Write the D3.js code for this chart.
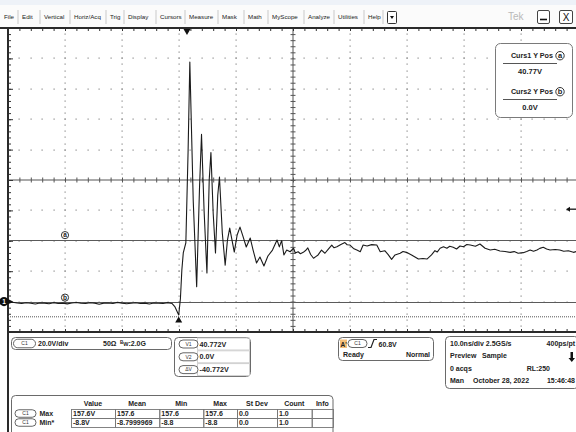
<!DOCTYPE html>
<html>
<head>
<meta charset="utf-8">
<script src="https://cdn.jsdelivr.net/npm/d3@7"></script>
<style>
  html, body { margin: 0; padding: 0; background: #fff; }
  svg { display: block; font-family: "Liberation Sans", Arial, sans-serif; }
</style>
</head>
<body>
<svg id="scope" width="576" height="432"></svg>
<script>
// ---- Acquired record: C1, time from left screen edge (ns) and amplitude (V)
const timeNs = [
  0, 0.8, 1.6, 2.4, 3.2, 4.0, 4.8, 5.6, 6.4, 7.2, 8.0, 8.8, 9.6, 10.4, 11.2, 12.0,
  12.8, 13.6, 14.4, 15.2, 16.0, 16.8, 17.6, 18.4, 19.2, 20.0, 20.8, 21.6, 22.4, 23.2,
  24.0, 24.8, 25.6, 26.4, 27.2, 28.0, 28.8,
  29.3, 29.95, 30.25, 30.5, 30.75, 31.2, 31.6, 31.9, 32.5, 33.1, 33.6, 33.95, 34.4,
  34.9, 35.3, 35.6, 36.0, 36.4, 36.8, 37.1, 37.6, 38.1, 38.5, 38.9, 39.3, 39.7, 40.2,
  40.7, 41.2, 41.8, 42.5, 43.0, 43.6, 44.2, 44.9, 45.6, 46.4, 47.2, 47.6, 48.0, 48.4,
  48.9, 49.5, 50.1, 50.4, 50.9, 51.3, 51.8, 52.2, 52.6, 53.1, 53.6, 54.0, 54.4, 55.0,
  55.6, 56.2, 56.8, 57.2, 57.7, 58.4, 59.1, 59.5, 60.0, 60.6, 61.2, 61.8, 62.3, 63.0,
  63.8, 64.7, 65.3, 66.1, 66.7, 67.3, 67.9, 68.8, 69.3, 69.9, 70.8, 71.4, 72.0, 72.8,
  73.5, 74.3, 74.9, 75.3, 75.8, 76.4, 77.0, 77.5, 78.1, 78.7, 79.3, 79.9, 80.5, 81.1,
  82.0, 82.8, 83.7, 84.6, 85.4, 86.3, 87.2, 88.1, 88.8, 89.5, 90.4, 91.0, 91.6, 92.2,
  92.8, 93.3, 93.9, 94.5, 95.1, 96.0, 96.8, 97.5, 98.3, 99.2, 100.0
];
const volts = [
  -1.0, -0.4, -0.9, -1.3, -0.8, -1.1, -1.6, -0.9, -1.0, -1.4, -0.7, -1.2, -1.0, -1.5, -0.9, -0.6,
  -1.1, -1.3, -0.8, -1.0, -1.7, -1.0, -0.9, -1.2, -0.5, -1.0, -1.4, -1.1, -0.8, -1.3,
  -1.0, -1.6, -0.9, -1.1, -1.2, -0.7, -1.3,
  -3.5, -8.8, 2.0, 20.8, 32.0, 38.6, 99.7, 157.6, 66.0, 9.8, 75.0, 110.0, 60.0,
  18.8, 80.0, 98.0, 58.0, 32.0, 70.0, 82.0, 45.0, 24.0, 40.5, 48.4, 40.5, 32.6, 43.8,
  49.0, 43.2, 35.9, 41.8, 33.9, 25.4, 29.3, 23.4, 30.0, 33.9, 40.5, 36.0, 40.1, 30.7,
  33.9, 32.8, 35.1, 32.0, 32.8, 31.5, 32.4, 33.6, 35.3, 31.0, 28.5, 29.6, 30.7, 33.9,
  31.8, 34.5, 37.2, 35.4, 36.1, 37.6, 38.8, 37.4, 37.2, 35.0, 33.9, 32.8, 37.2, 36.6,
  37.5, 37.2, 32.8, 33.5, 30.9, 27.8, 30.7, 31.8, 33.0, 32.4, 30.7, 29.4, 28.0, 28.4,
  28.0, 30.7, 33.5, 32.6, 35.1, 36.1, 35.1, 36.4, 35.7, 34.6, 36.6, 36.1, 37.6, 37.2,
  36.4, 37.9, 35.1, 33.9, 34.4, 33.3, 33.0, 32.4, 32.9, 31.8, 32.2, 33.0, 33.9, 33.1,
  33.9, 35.0, 35.7, 34.6, 33.9, 34.3, 33.9, 33.1, 33.5, 32.4, 33.3
];

// ---- Instrument settings
const voltsPerDiv = 20;
const nsPerDiv = 10;
const groundV = 0;
const cursor1V = 40.772;
const cursor2V = 0.0;
const triggerLevelV = 60.8;
const triggerTimeNs = 31.4;
const minMarkTimeNs = 29.95;
const refLineV = -10;

// ---- UI texts
const menuLabels = ["File", "Edit", "Vertical", "Horiz/Acq", "Trig", "Display", "Cursors",
  "Measure", "Mask", "Math", "MyScope", "Analyze", "Utilities", "Help"];
const cursorBoxLabels = ["Curs1 Y Pos", "Curs2 Y Pos"];
const cursorBoxValues = ["40.77V", "0.0V"];
const vCursorTags = ["V1", "V2", "\u0394V"];
const vCursorValues = ["40.772V", "0.0V", "-40.772V"];
const horizRows = [
  ["10.0ns/div 2.5GS/s", "", "400ps/pt"],
  ["Preview", "Sample", ""],
  ["0 acqs", "", "RL:250"],
  ["Man", "October 28, 2022", "15:46:48"]
];
const measHeaders = ["Value", "Mean", "Min", "Max", "St Dev", "Count", "Info"];
const measRowLabels = ["Max", "Min*"];
const measRows = [
  ["157.6V", "157.6", "157.6", "157.6", "0.0", "1.0", ""],
  ["-8.8V", "-8.7999969", "-8.8", "-8.8", "0.0", "1.0", ""]
];

// ---------------------------------------------------------------------------
const W = 576, H = 432;
const svg = d3.select("#scope");
const frame = { left: 8, top: 28, right: 578, bottom: 332 };

const x = d3.scaleLinear().domain([0, 10 * nsPerDiv]).range([frame.left, frame.right]);
const y = d3.scaleLinear().domain([groundV - voltsPerDiv, groundV + 9 * voltsPerDiv])
  .range([frame.bottom, frame.top]);

const [v0, v1] = y.domain();
const [t0, t1] = x.domain();
const minorT = d3.range(t0, t1 + 0.001, nsPerDiv / 5);
const minorV = d3.range(v0, v1 + 0.001, voltsPerDiv / 5);
const majorT = d3.range(t0 + nsPerDiv, t1, nsPerDiv);
const majorV = d3.range(v0 + voltsPerDiv, v1, voltsPerDiv);
const centerT = (t0 + t1) / 2, centerV = (v0 + v1) / 2;

// ---- Menu bar
svg.append("rect").attr("width", W).attr("height", frame.top).attr("fill", "#fbfbfb");
svg.append("rect").attr("width", W).attr("height", 5).attr("fill", "#eef2f8");

const menuStarts = [4, 22, 44, 74, 110, 128, 160, 189, 222, 248, 272, 308, 338, 368];
const menu = svg.append("g").attr("font-size", 6.2).attr("fill", "#222");
menuLabels.forEach((m, i) => {
  menu.append("text").attr("x", menuStarts[i]).attr("y", 18.5).text(m);
  const sepX = (i < menuLabels.length - 1 ? menuStarts[i + 1] : 387) - 4;
  menu.append("line").attr("x1", sepX).attr("x2", sepX).attr("y1", 10).attr("y2", 24)
    .attr("stroke", "#c9c9c9");
});
// drop-down button
svg.append("rect").attr("x", 387.5).attr("y", 11.5).attr("width", 9).attr("height", 12).attr("rx", 1)
  .attr("fill", "#fff").attr("stroke", "#333");
svg.append("path").attr("d", "M390,16 L394,16 L392,19 Z").attr("fill", "#111");
// brand + window buttons
svg.append("text").attr("x", 508).attr("y", 20).attr("font-size", 10).attr("fill", "#b9b9b9").text("Tek");
svg.append("rect").attr("x", 537.5).attr("y", 10.5).attr("width", 12).attr("height", 13).attr("rx", 1.5)
  .attr("fill", "#fff").attr("stroke", "#444");
svg.append("line").attr("x1", 540).attr("x2", 547).attr("y1", 19.5).attr("y2", 19.5)
  .attr("stroke", "#111").attr("stroke-width", 1.6);
svg.append("rect").attr("x", 559.5).attr("y", 10.5).attr("width", 13).attr("height", 13).attr("rx", 1.5)
  .attr("fill", "#fff").attr("stroke", "#444");
svg.append("text").attr("x", 566).attr("y", 20.5).attr("text-anchor", "middle")
  .attr("font-size", 10).attr("fill", "#111").text("X");

// ---- Graticule
const grat = svg.append("g");
grat.append("rect").attr("x", frame.left).attr("y", frame.top)
  .attr("width", frame.right - frame.left).attr("height", frame.bottom - frame.top).attr("fill", "#fff");

// dotted division lines
const dotPts = [];
majorT.filter(t => t !== centerT).forEach(t => minorV.forEach(v => dotPts.push([t, v])));
majorV.filter(v => v !== centerV).forEach(v => minorT.forEach(t => dotPts.push([t, v])));
grat.append("g").selectAll("rect").data(dotPts).join("rect")
  .attr("x", d => Math.round(x(d[0])) - 0.5).attr("y", d => Math.round(y(d[1])) - 0.5)
  .attr("width", 1.2).attr("height", 1.2).attr("fill", "#8a8a8a");

// center cross with minor ticks
grat.append("line").attr("x1", frame.left).attr("x2", frame.right)
  .attr("y1", y(centerV)).attr("y2", y(centerV)).attr("stroke", "#555");
grat.append("line").attr("y1", frame.top).attr("y2", frame.bottom)
  .attr("x1", x(centerT)).attr("x2", x(centerT)).attr("stroke", "#555");
grat.append("g").attr("transform", `translate(0,${y(centerV) + 2.5})`)
  .call(d3.axisTop(x).tickValues(minorT).tickSize(5).tickSizeOuter(0).tickFormat(""))
  .call(g => g.select(".domain").remove())
  .call(g => g.selectAll("line").attr("stroke", "#555"));
grat.append("g").attr("transform", `translate(${x(centerT) - 2.5},0)`)
  .call(d3.axisRight(y).tickValues(minorV).tickSize(5).tickSizeOuter(0).tickFormat(""))
  .call(g => g.select(".domain").remove())
  .call(g => g.selectAll("line").attr("stroke", "#555"));

// frame edges with ticks
function edge(axis, tx, ty) {
  grat.append("g").attr("transform", `translate(${tx},${ty})`)
    .call(axis.tickSizeOuter(0).tickFormat(""))
    .call(g => g.select(".domain").remove())
    .call(g => g.selectAll("line").attr("stroke", "#333"));
}
edge(d3.axisBottom(x).tickValues(minorT).tickSize(3), 0, frame.top);
edge(d3.axisTop(x).tickValues(minorT).tickSize(3), 0, frame.bottom);
edge(d3.axisRight(y).tickValues(minorV).tickSize(3), frame.left, 0);
edge(d3.axisRight(y).tickValues(majorV).tickSize(5), frame.left, 0);
grat.append("line").attr("x1", 0).attr("x2", W).attr("y1", frame.top).attr("y2", frame.top)
  .attr("stroke", "#2a2a2a").attr("stroke-width", 2);
grat.append("line").attr("x1", frame.left).attr("x2", W).attr("y1", frame.bottom).attr("y2", frame.bottom)
  .attr("stroke", "#2a2a2a").attr("stroke-width", 2);
grat.append("line").attr("x1", frame.left).attr("x2", frame.left).attr("y1", frame.top - 1).attr("y2", H)
  .attr("stroke", "#2a2a2a").attr("stroke-width", 2);

// reference line (fine dots)
svg.append("line").attr("x1", frame.left).attr("x2", frame.right)
  .attr("y1", y(refLineV)).attr("y2", y(refLineV))
  .attr("stroke", "#555").attr("stroke-dasharray", "1,1");

// horizontal bar cursors
[cursor1V, cursor2V].forEach(v => {
  svg.append("line").attr("x1", frame.left).attr("x2", frame.right)
    .attr("y1", Math.round(y(v)) + 0.5).attr("y2", Math.round(y(v)) + 0.5)
    .attr("stroke", "#5a5a5a");
});

// ---- Waveform
svg.append("clipPath").attr("id", "plotClip").append("rect")
  .attr("x", frame.left).attr("y", frame.top)
  .attr("width", frame.right - frame.left).attr("height", frame.bottom - frame.top);
const trace = timeNs.map((t, i) => [t, volts[i]]);
svg.append("path").datum(trace)
  .attr("clip-path", "url(#plotClip)")
  .attr("fill", "none").attr("stroke", "#1b1b1b").attr("stroke-width", 1.1)
  .attr("stroke-linejoin", "round")
  .attr("d", d3.line().x(d => x(d[0])).y(d => y(d[1])));

// ---- Markers
function circledLetter(cx, cy, letter, r, fs) {
  svg.append("circle").attr("cx", cx).attr("cy", cy).attr("r", r)
    .attr("fill", "#fff").attr("stroke", "#333").attr("stroke-width", 1);
  svg.append("text").attr("x", cx).attr("y", cy + fs * 0.32).attr("text-anchor", "middle")
    .attr("font-size", fs).attr("font-weight", "bold").attr("fill", "#222").text(letter);
}
circledLetter(x(t0 + nsPerDiv), y(cursor1V) - 4.5, "a", 3.6, 6.5);
circledLetter(x(t0 + nsPerDiv), y(cursor2V) - 4, "b", 3.6, 6.5);

// channel ground indicator
svg.append("circle").attr("cx", 4).attr("cy", y(groundV)).attr("r", 4.6).attr("fill", "#111");
svg.append("text").attr("x", 4).attr("y", y(groundV) + 2.2).attr("text-anchor", "middle")
  .attr("font-size", 6.5).attr("font-weight", "bold").attr("fill", "#fff").text("1");
svg.append("path").attr("d", `M8,${y(groundV) - 2.5} L13,${y(groundV)} L8,${y(groundV) + 2.5} Z`).attr("fill", "#111");

// trigger position (top) and min marker (bottom)
const tp = x(triggerTimeNs);
svg.append("path").attr("d", `M${tp - 3.5},${frame.top + 1} L${tp + 3.5},${frame.top + 1} L${tp},${frame.top + 7} Z`)
  .attr("fill", "#111");
const mm = x(minMarkTimeNs), my = y(-8.8);
svg.append("path").attr("d", `M${mm},${my + 1.5} L${mm + 3.5},${my + 7.5} L${mm - 3.5},${my + 7.5} Z`)
  .attr("fill", "#111");

// trigger level indicator at the right
const tl = y(triggerLevelV);
svg.append("path").attr("d", `M566,${tl} L570,${tl - 2.5} L570,${tl + 2.5} Z`).attr("fill", "#111");
svg.append("line").attr("x1", 569).attr("x2", 576).attr("y1", tl).attr("y2", tl)
  .attr("stroke", "#111").attr("stroke-width", 1.3);

// ---- Cursor readout (on screen)
const cb = svg.append("g");
cb.append("rect").attr("x", 495.5).attr("y", 43.5).attr("width", 77).attr("height", 74).attr("rx", 5)
  .attr("fill", "#fff").attr("stroke", "#7a7a7a");
cursorBoxLabels.forEach((lab, i) => {
  const y0 = 58 + i * 36;
  cb.append("text").attr("x", 553).attr("y", y0).attr("text-anchor", "end")
    .attr("font-size", 7.2).attr("font-weight", "bold").attr("fill", "#222").text(lab);
  circledLetter(560, y0 - 2.3, i === 0 ? "a" : "b", 4.2, 7.5);
  cb.append("line").attr("x1", 503).attr("x2", 557).attr("y1", y0 + 5.5).attr("y2", y0 + 5.5)
    .attr("stroke", "#555");
  cb.append("text").attr("x", 530).attr("y", y0 + 16).attr("text-anchor", "middle")
    .attr("font-size", 7.5).attr("font-weight", "bold").attr("fill", "#222").text(cursorBoxValues[i]);
});

// ---- Lower readout panel
const panel = svg.append("g").attr("font-weight", "bold").attr("fill", "#222");
function pill(cx, cy, w, h, label) {
  panel.append("rect").attr("x", cx - w / 2).attr("y", cy - h / 2).attr("width", w).attr("height", h)
    .attr("rx", h / 2).attr("fill", "#fff").attr("stroke", "#555").attr("stroke-width", 0.9);
  panel.append("text").attr("x", cx).attr("y", cy + 1.8).attr("text-anchor", "middle")
    .attr("font-size", 5).attr("font-weight", "normal").attr("fill", "#333").text(label);
}
function box(x0, y0, w, h) {
  panel.append("rect").attr("x", x0).attr("y", y0).attr("width", w).attr("height", h).attr("rx", 4)
    .attr("fill", "none").attr("stroke", "#6a6a6a");
}
function txt(x0, y0, s, anchor, size) {
  return panel.append("text").attr("x", x0).attr("y", y0).attr("text-anchor", anchor || "start")
    .attr("font-size", size || 7).text(s);
}

// vertical settings
box(11.5, 337.5, 160, 12);
pill(24.5, 343.5, 22, 8.5, "C1");
txt(38, 346.2, "20.0V/div");
txt(103, 346.2, "50\u03a9");
const bw = txt(120, 346.2, "");
bw.append("tspan").attr("font-size", 4.5).attr("dy", -2).text("B");
bw.append("tspan").attr("font-size", 5.5).attr("dy", 2).text("W");
bw.append("tspan").text(":2.0G");

// V-bar cursor readout
box(174.5, 337.5, 76, 39);
vCursorTags.forEach((tag, i) => {
  const cy = 344 + i * 12.8;
  panel.append("rect").attr("x", 197.5).attr("y", cy - 6).attr("width", 52).attr("height", 12)
    .attr("fill", "none").attr("stroke", "#cfcfcf");
  pill(188.5, cy, 19, 8, tag);
  txt(199.5, cy + 2.6, vCursorValues[i], "start", 7.2);
});

// trigger readout
box(338.5, 337.5, 95, 23);
panel.append("rect").attr("x", 340).attr("y", 339.5).attr("width", 7).attr("height", 8.5).attr("fill", "#f5c07a");
txt(340.5, 346.5, "A'", "start", 6.5);
pill(357.5, 343.5, 19, 8, "C1");
panel.append("path").attr("d", "M368,347.5 L371,347.5 L374,339.5 L377,339.5")
  .attr("fill", "none").attr("stroke", "#222").attr("stroke-width", 1.2);
txt(378.5, 346.5, "60.8V");
txt(343, 356.5, "Ready");
txt(430, 356.5, "Normal", "end");

// timebase readout
box(445.5, 336.5, 133, 52);
horizRows.forEach((r, i) => {
  const yy = 345.5 + i * 12.6;
  if (r[0]) txt(450, yy, r[0]);
  if (r[1]) txt(i === 3 ? 473 : 482, yy, r[1]);
  if (r[2]) txt(i === 2 ? 550 : 575, yy, r[2], "end");
});
panel.append("path").attr("d", "M570.5,352 L573,352 L573,358 L575,358 L571.8,362 L568.5,358 L570.5,358 Z")
  .attr("fill", "#111");

// measurement table
box(11.5, 395.5, 321.5, 45);
const colEdges = [71, 115, 159.3, 203.3, 237, 277, 311.7, 333];
const rowTops = [409, 418];
const rowH = 9;
measHeaders.forEach((h, j) => {
  txt((colEdges[j] + colEdges[j + 1]) / 2, 406, h, "middle");
});
measRows.forEach((row, i) => {
  const top = rowTops[i];
  pill(25.5, top + rowH / 2, 21, 7.5, "C1");
  txt(39.5, top + 7.2, measRowLabels[i]);
  row.forEach((v, j) => {
    panel.append("rect").attr("x", colEdges[j] + 0.5).attr("y", top + 0.5)
      .attr("width", colEdges[j + 1] - colEdges[j]).attr("height", rowH)
      .attr("fill", "none").attr("stroke", "#777").attr("stroke-width", 0.9);
    if (v) txt(colEdges[j] + 2, top + 7.4, v);
  });
});
</script>
</body>
</html>
